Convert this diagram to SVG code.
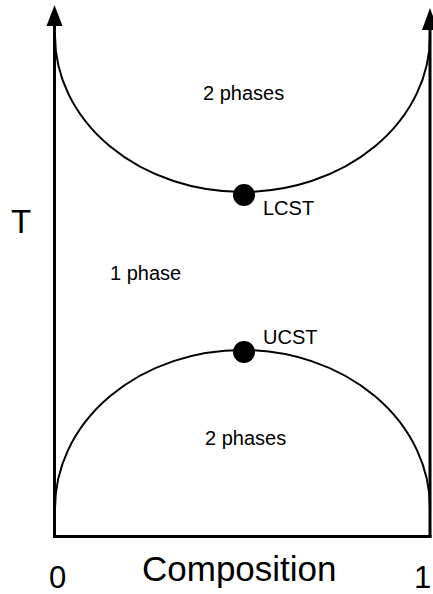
<svg xmlns="http://www.w3.org/2000/svg" width="433" height="594" viewBox="0 0 433 594">
<style>
.ax{stroke:#000;stroke-width:3;fill:none}
.cv{stroke:#000;stroke-width:2;fill:none}
.head{fill:#000}
.t{font-family:"Liberation Sans",Arial,sans-serif;fill:#000}
.lbl{font-size:20px}
</style>
<rect width="433" height="594" fill="#fff"/>
<g id="connectors">
<path class="ax" d="M54.5 537 L54.5 22"/>
<path class="head" d="M54.5 5 L62.5 26 L46.5 26 Z"/>
<path class="ax" d="M430 537 L430 26"/>
<path class="head" d="M430 8 L438 30 L422 30 Z"/>
<path class="ax" d="M53 536.5 L431.5 536.5"/>
<path id="upper-curve" class="cv" d="M55 36 A187.5 156 0 0 0 430 36"/>
<path id="lower-curve" class="cv" d="M55 508 A187.5 158 0 0 1 430 508"/>
</g>
<g id="lcst"><circle cx="244" cy="195" r="11" fill="#000"/><text class="t lbl" x="263" y="215">LCST</text></g>
<g id="ucst"><circle cx="244" cy="352" r="11" fill="#000"/><text class="t lbl" x="263" y="344">UCST</text></g>
<g id="top-2phases"><text class="t lbl" x="203" y="100">2 phases</text></g>
<g id="one-phase"><text class="t lbl" x="110" y="280">1 phase</text></g>
<g id="bottom-2phases"><text class="t lbl" x="205" y="445">2 phases</text></g>
<g id="axis-labels">
<text class="t" x="11" y="233" font-size="33">T</text>
<text class="t" x="49" y="588" font-size="31">0</text>
<text class="t" x="414" y="588" font-size="31">1</text>
<text class="t" x="142" y="581" font-size="35">Composition</text>
</g>
</svg>
